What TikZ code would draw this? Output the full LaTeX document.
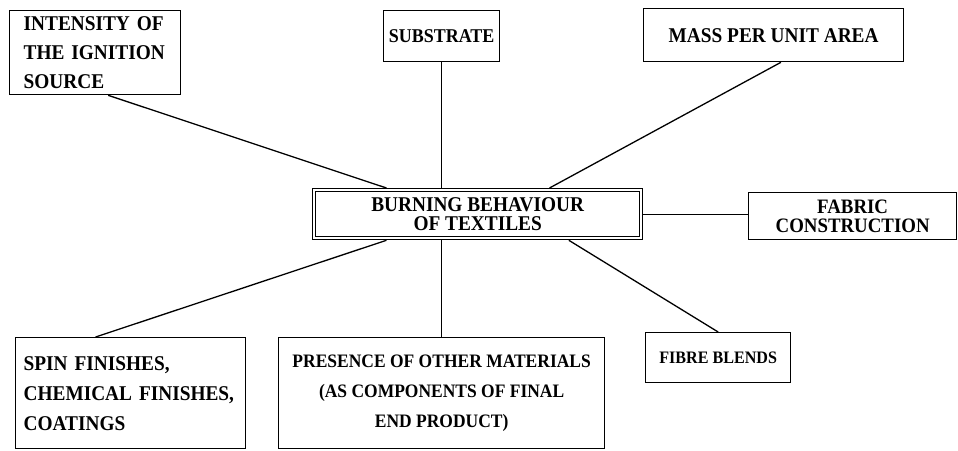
\documentclass[tikz,border=0pt]{standalone}
\usepackage{fontspec}
\setmainfont{Liberation Serif}[FakeStretch=0.92]
\usepackage{tikz}

\begin{document}
\begin{tikzpicture}[x=1pt,y=-1pt,
  cadre/.style={draw, line width=1.3pt, inner sep=0pt, anchor=north west, align=center},
  lien/.style={line width=1.3pt}]
\useasboundingbox (0,0) rectangle (958,450);
\node[cadre, minimum height=84pt, text width=143pt, inner xsep=14pt, align=left, font=\bfseries\fontsize{21}{29}\selectfont] (intensite) at (9,10) {INTENSITY OF\\THE IGNITION\\SOURCE};
\node[cadre, minimum width=116pt, minimum height=51pt, font=\bfseries\fontsize{19.5}{20}\selectfont] (substrat) at (383,10) {SUBSTRATE};
\node[cadre, minimum width=260pt, minimum height=53pt, font=\bfseries\fontsize{21}{20}\selectfont] (masse) at (643,8) {MASS PER UNIT AREA};
\node[cadre, minimum width=330pt, minimum height=51pt, font=\bfseries\fontsize{21}{19.5}\selectfont] (textiles) at (312,188) {BURNING BEHAVIOUR\\OF TEXTILES};
\draw[line width=1.1pt] ([shift={(3.5,3.5)}]textiles.north west) rectangle ([shift={(-3.5,-3.5)}]textiles.south east);
\node[cadre, minimum width=208pt, minimum height=47pt, font=\bfseries\fontsize{20.5}{19.5}\selectfont] (tissu) at (748,192) {FABRIC\\CONSTRUCTION};
\node[cadre, minimum height=111pt, text width=214pt, inner xsep=8pt, align=left, font=\bfseries\fontsize{21}{30}\selectfont] (finitions) at (15,337) {SPIN FINISHES,\\CHEMICAL FINISHES,\\COATINGS};
\node[cadre, minimum width=326pt, minimum height=111pt, font=\bfseries\fontsize{19}{30}\selectfont] (presence) at (278,337) {PRESENCE OF OTHER MATERIALS\\(AS COMPONENTS OF FINAL\\END PRODUCT)};
\node[cadre, minimum width=145pt, minimum height=50pt, font=\bfseries\fontsize{17.5}{20}\selectfont] (fibres) at (645,332) {FIBRE BLENDS};
\draw[lien] (intensite.287) -- (textiles.164);
\draw[lien, line width=0.7pt] (substrat.south) -- (substrat.south |- textiles.north);
\draw[lien] (masse.285) -- (textiles.20);
\draw[lien, line width=0.9pt] (textiles.east) -- (textiles.east -| tissu.west);
\draw[lien] (textiles.196) -- (finitions.122);
\draw[lien] (presence.north |- textiles.south) -- (presence.north);
\draw[lien] (textiles.344) -- (fibres.north);
\end{tikzpicture}
\end{document}
